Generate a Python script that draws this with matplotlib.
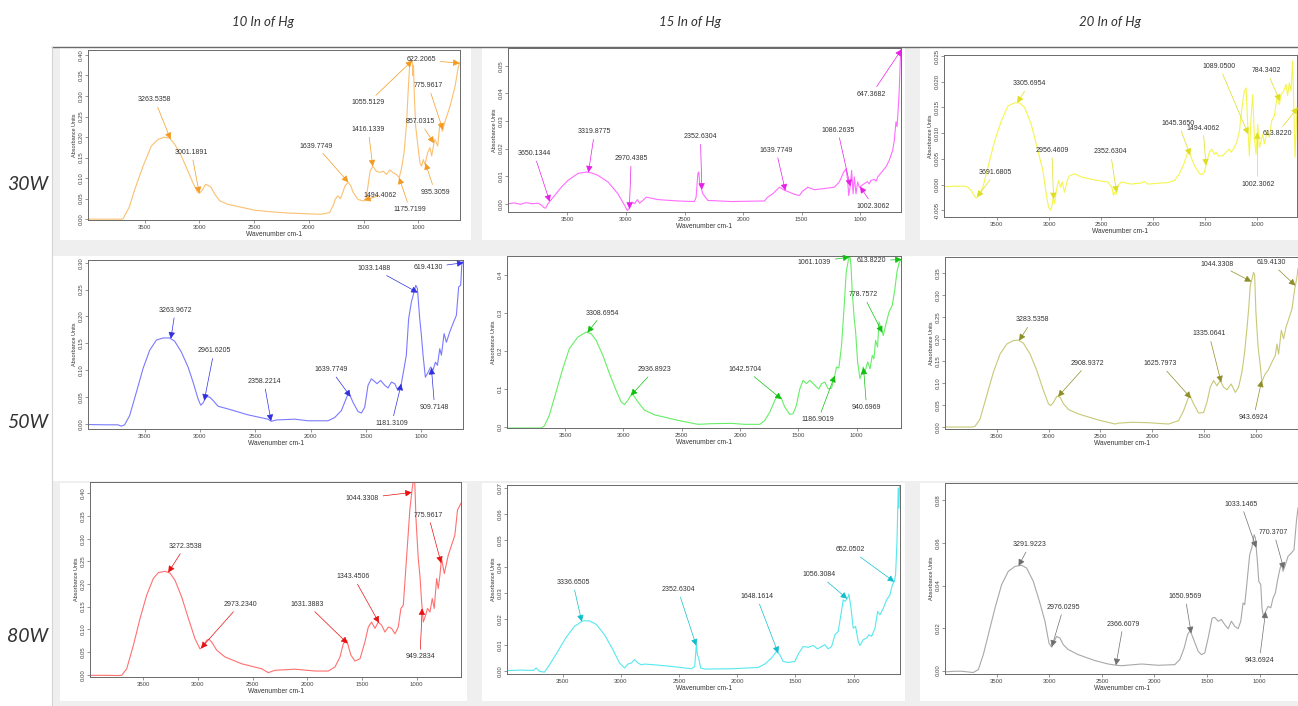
import numpy as np
import matplotlib
matplotlib.use("Agg")
import matplotlib.pyplot as plt
from matplotlib.patches import Rectangle
from matplotlib.lines import Line2D
from matplotlib.ticker import FormatStrFormatter

plt.rcParams['font.family'] = ['Liberation Sans', 'DejaVu Sans']

COLUMN_TITLES = ["10 In of Hg", "15 In of Hg", "20 In of Hg"]
ROW_TITLES = ["30W", "50W", "80W"]
X_TICKS = [3500, 3000, 2500, 2000, 1500, 1000]

# ---- FTIR spectra: (wavenumber cm-1, absorbance) ----
SPEC_30W_10HG = [(4018,0.000),(3900,0.000),(3800,0.000),(3700,0.000),(3640,0.030),(3590,0.073),(3515,0.129),
    (3440,0.178),(3380,0.194),(3320,0.200),(3270,0.197),(3225,0.182),(3165,0.154),(3105,0.117),(3060,0.089),
    (3020,0.067),(3000,0.063),(2970,0.072),(2945,0.085),(2920,0.082),(2895,0.078),(2860,0.061),(2815,0.045),
    (2740,0.036),(2600,0.028),(2495,0.022),(2350,0.018),(2190,0.015),(2000,0.013),(1885,0.012),(1810,0.016),
    (1775,0.035),(1760,0.048),(1735,0.057),(1712,0.050),(1690,0.065),(1670,0.081),(1640,0.090),(1615,0.080),
    (1595,0.065),(1550,0.048),(1500,0.044),(1475,0.053),(1455,0.090),(1440,0.117),(1415,0.129),(1385,0.117),
    (1350,0.114),(1320,0.117),(1290,0.109),(1260,0.120),(1230,0.113),(1200,0.109),(1175,0.101),(1155,0.121),
    (1130,0.162),(1107,0.234),(1092,0.315),(1080,0.370),(1064,0.388),(1055,0.386),(1050,0.350),(1044,0.375),
    (1036,0.300),(1024,0.226),(1000,0.170),(985,0.137),(970,0.129),(955,0.145),(938,0.133),(915,0.162),
    (893,0.174),(878,0.154),(857,0.185),(848,0.194),(823,0.178),(802,0.234),(780,0.214),(756,0.238),
    (710,0.275),(664,0.323),(634,0.372),(622,0.380),(619,0.382)]
PEAKS_30W_10HG = [3263.5358, 3001.1891, 1639.7749, 1416.1339, 1494.4062, 1175.7199, 1055.5129,
                  622.2065, 775.9617, 857.0315, 935.3059]

SPEC_30W_15HG = [(4006,0.0000),(3950,0.0003),(3900,-0.0002),(3850,0.0004),(3800,0.0000),(3750,0.0002),
    (3720,-0.0005),(3700,-0.0014),(3685,-0.0016),(3675,-0.0008),(3665,0.0000),(3608,0.0030),(3551,0.0060),
    (3494,0.0085),(3409,0.0110),(3338,0.0115),(3295,0.0112),(3239,0.0103),(3153,0.0079),(3068,0.0036),
    (3011,-0.0006),(2989,-0.0024),(2969,-0.0018),(2949,0.0006),(2926,0.0000),(2903,0.0015),(2883,0.0002),
    (2855,0.0012),(2827,0.0024),(2727,0.0015),(2557,0.0010),(2415,0.0008),(2401,0.0024),(2386,0.0110),
    (2378,0.0115),(2369,0.0067),(2358,0.0060),(2344,0.0036),(2301,0.0012),(2102,0.0008),(1818,0.0010),
    (1790,0.0024),(1747,0.0036),(1690,0.0060),(1648,0.0049),(1605,0.0042),(1562,0.0034),(1520,0.0030),
    (1491,0.0046),(1449,0.0060),(1392,0.0051),(1307,0.0055),(1222,0.0060),(1179,0.0079),(1142,0.0115),
    (1122,0.0127),(1108,0.0085),(1099,0.0030),(1085,0.0067),(1074,0.0121),(1062,0.0036),(1051,0.0097),
    (1037,0.0036),(1023,0.0079),(1009,0.0060),(966,0.0073),(940,0.0080),(925,0.0072),(909,0.0085),
    (880,0.0088),(865,0.0082),(852,0.0097),(810,0.0119),(781,0.0134),(753,0.0158),(724,0.0194),
    (710,0.0230),(696,0.0297),(687,0.0280),(676,0.0350),(668,0.0410),(659,0.0520),(653,0.0560)]
PEAKS_30W_15HG = [3650.1344, 3319.8775, 2970.4385, 2352.6304, 1639.7749, 1086.2635, 1002.3062, 647.3682]

SPEC_30W_20HG = [(4008,-0.0004),(3900,-0.0003),(3810,-0.0003),(3778,-0.0005),(3746,-0.0012),(3714,-0.0023),
    (3698,-0.0026),(3676,-0.0021),(3635,-0.0005),(3586,0.0034),(3522,0.0085),(3458,0.0124),(3394,0.0153),
    (3331,0.0159),(3283,0.0159),(3235,0.0150),(3171,0.0117),(3107,0.0066),(3059,0.0027),(3027,-0.0018),
    (3005,-0.0044),(2986,-0.0050),(2973,-0.0041),(2960,-0.0025),(2947,-0.0037),(2931,-0.0012),(2909,0.0008),
    (2890,-0.0005),(2874,0.0005),(2851,-0.0015),(2826,0.0008),(2803,0.0017),(2755,0.0021),(2692,0.0015),
    (2564,0.0009),(2436,0.0005),(2398,-0.0005),(2382,-0.0021),(2372,-0.0015),(2356,-0.0019),(2340,-0.0002),
    (2308,0.0005),(2212,0.0001),(2117,0.0003),(2085,0.0006),(2053,0.0001),(1861,0.0004),(1797,0.0008),
    (1749,0.0021),(1707,0.0040),(1669,0.0063),(1644,0.0057),(1606,0.0037),(1558,0.0022),(1535,0.0019),
    (1510,0.0024),(1484,0.0046),(1462,0.0063),(1439,0.0069),(1414,0.0059),(1398,0.0063),(1375,0.0056),
    (1334,0.0056),(1302,0.0063),(1270,0.0069),(1254,0.0063),(1222,0.0072),(1196,0.0085),(1174,0.0104),
    (1149,0.0150),(1126,0.0182),(1110,0.0188),(1094,0.0117),(1078,0.0056),(1062,0.0130),(1046,0.0175),
    (1030,0.0092),(1014,0.0059),(998,0.0117),(982,0.0072),(966,0.0085),(950,0.0098),(934,0.0079),
    (909,0.0104),(887,0.0092),(864,0.0124),(838,0.0134),(813,0.0169),(790,0.0156),(774,0.0175),
    (749,0.0182),(727,0.0195),(711,0.0173),(695,0.0198),(679,0.0182),(663,0.0240),(653,0.0163),
    (640,0.0053),(627,0.0120),(621,0.0150)]
PEAKS_30W_20HG = [3691.6805, 3305.6954, 2956.4609, 2352.6304, 1645.3650, 1494.4062, 1089.0500,
                  784.3402, 613.8220, 1002.3062]

SPEC_50W_10HG = [(4012,-0.0010),(3861,-0.0015),(3741,-0.0015),(3711,-0.0040),(3681,-0.0015),(3636,0.0156),
    (3575,0.059),(3515,0.103),(3455,0.137),(3395,0.156),(3334,0.160),(3274,0.160),(3229,0.154),(3169,0.134),
    (3108,0.106),(3063,0.078),(3018,0.047),(2994,0.035),(2973,0.039),(2943,0.051),(2913,0.050),(2883,0.044),
    (2837,0.033),(2747,0.028),(2566,0.017),(2386,0.009),(2355,0.005),(2310,0.0075),(2145,0.009),(2024,0.006),
    (1843,0.006),(1783,0.012),(1723,0.025),(1678,0.048),(1657,0.059),(1617,0.040),(1572,0.023),(1542,0.0205),
    (1512,0.031),(1482,0.072),(1452,0.084),(1422,0.079),(1401,0.075),(1368,0.081),(1331,0.072),(1301,0.067),
    (1271,0.078),(1241,0.075),(1211,0.062),(1181,0.075),(1157,0.103),(1136,0.128),(1115,0.196),(1090,0.227),
    (1066,0.246),(1051,0.258),(1036,0.252),(1015,0.196),(1000,0.165),(985,0.128),(964,0.087),(940,0.096),
    (916,0.106),(895,0.100),(873,0.115),(855,0.109),(834,0.140),(819,0.128),(795,0.168),(774,0.152),
    (744,0.171),(714,0.187),(684,0.202),(663,0.255),(645,0.258),(633,0.302),(624,0.300)]
PEAKS_50W_10HG = [3263.9672, 2961.6205, 2358.2214, 1639.7749, 1181.3109, 1033.1488, 619.4130, 909.7148]

SPEC_50W_15HG = [(3998,-0.0026),(3850,-0.0026),(3706,-0.0026),(3678,0.0026),(3635,0.031),(3577,0.092),
    (3520,0.153),(3463,0.206),(3391,0.236),(3320,0.249),(3277,0.245),(3234,0.228),(3176,0.188),(3119,0.140),
    (3062,0.096),(3019,0.066),(2990,0.059),(2962,0.070),(2927,0.0875),(2904,0.079),(2876,0.066),(2818,0.044),
    (2732,0.032),(2532,0.0175),(2360,0.007),(2246,0.0087),(2074,0.0096),(1959,0.007),(1830,0.007),
    (1787,0.0175),(1744,0.039),(1701,0.070),(1673,0.083),(1644,0.074),(1616,0.0525),(1573,0.033),
    (1544,0.035),(1516,0.057),(1487,0.100),(1459,0.1225),(1430,0.114),(1401,0.1225),(1372,0.114),
    (1344,0.105),(1324,0.100),(1300,0.114),(1272,0.118),(1243,0.100),(1215,0.102),(1192,0.127),
    (1172,0.1575),(1152,0.155),(1129,0.214),(1106,0.319),(1089,0.407),(1071,0.4375),(1057,0.450),
    (1048,0.424),(1037,0.354),(1020,0.284),(1008,0.249),(991,0.171),(971,0.127),(957,0.140),(943,0.1575),
    (928,0.144),(905,0.171),(885,0.153),(865,0.188),(851,0.179),(837,0.2275),(820,0.210),(808,0.276),
    (785,0.254),(771,0.240),(751,0.267),(722,0.302),(694,0.319),(671,0.363),(654,0.407),(637,0.429),
    (619,0.440)]
PEAKS_50W_15HG = [3308.6954, 2936.8923, 1642.5704, 1186.9019, 1061.1039, 613.8220, 778.7572, 940.6969]

SPEC_50W_20HG = [(3999,-0.0008),(3741,-0.0008),(3709,0.0008),(3661,0.0175),(3597,0.0706),(3532,0.124),
    (3468,0.165),(3403,0.188),(3339,0.196),(3291,0.197),(3243,0.190),(3178,0.165),(3114,0.128),(3049,0.082),
    (3001,0.052),(2979,0.048),(2953,0.055),(2921,0.069),(2889,0.067),(2856,0.052),(2808,0.039),(2712,0.029),
    (2518,0.015),(2358,0.006),(2325,0.008),(2197,0.010),(2036,0.009),(1843,0.006),(1746,0.0137),(1698,0.036),
    (1650,0.067),(1634,0.069),(1601,0.052),(1553,0.031),(1505,0.032),(1473,0.055),(1440,0.090),(1408,0.105),
    (1376,0.093),(1344,0.105),(1312,0.090),(1280,0.084),(1238,0.097),(1199,0.078),(1167,0.090),(1135,0.124),
    (1109,0.169),(1087,0.222),(1070,0.268),(1054,0.321),(1038,0.336),(1022,0.351),(1012,0.344),(1000,0.260),
    (980,0.184),(958,0.139),(942,0.101),(926,0.112),(910,0.120),(884,0.128),(861,0.139),(839,0.150),
    (813,0.162),(797,0.188),(781,0.165),(755,0.219),(733,0.200),(710,0.226),(678,0.249),(652,0.268),
    (626,0.313),(604,0.340),(594,0.360)]
PEAKS_50W_20HG = [3283.5358, 2908.9372, 1625.7973, 1335.0641, 1044.3308, 619.4130, 943.6924]

SPEC_80W_10HG = [(3988,-0.0015),(3850,-0.0015),(3729,-0.0020),(3698,-0.0015),(3652,0.013),(3591,0.065),
    (3530,0.124),(3470,0.175),(3409,0.212),(3363,0.225),(3302,0.228),(3256,0.224),(3210,0.208),(3149,0.171),
    (3088,0.124),(3027,0.079),(2982,0.057),(2951,0.061),(2921,0.076),(2899,0.078),(2875,0.072),(2829,0.054),
    (2753,0.039),(2601,0.024),(2418,0.013),(2357,0.0044),(2296,0.0096),(2113,0.012),(1930,0.008),(1808,0.008),
    (1747,0.017),(1701,0.039),(1671,0.068),(1640,0.076),(1601,0.043),(1564,0.030),(1518,0.035),(1473,0.072),
    (1442,0.105),(1412,0.116),(1381,0.102),(1351,0.116),(1320,0.109),(1290,0.094),(1259,0.105),(1229,0.102),
    (1198,0.090),(1168,0.105),(1144,0.146),(1122,0.153),(1107,0.205),(1082,0.293),(1061,0.367),(1040,0.411),
    (1028,0.432),(1016,0.420),(1006,0.344),(985,0.256),(970,0.219),(954,0.160),(939,0.116),(918,0.131),
    (900,0.146),(878,0.138),(857,0.168),(839,0.146),(817,0.212),(802,0.190),(787,0.219),(772,0.256),
    (747,0.223),(711,0.263),(680,0.286),(650,0.308),(626,0.363),(594,0.378)]
PEAKS_80W_10HG = [3272.3538, 2973.2340, 1631.3883, 1343.4506, 1044.3308, 775.9617, 949.2834]

SPEC_80W_15HG = [(3979,0.0003),(3858,0.0005),(3801,0.0004),(3750,0.0004),(3729,0.0013),(3700,0.0000),
    (3657,-0.0003),(3614,0.0025),(3543,0.0076),(3471,0.0130),(3399,0.0172),(3327,0.0193),(3270,0.0193),
    (3213,0.0180),(3141,0.0140),(3069,0.0083),(3012,0.0032),(2969,0.0013),(2940,0.0028),(2911,0.0032),
    (2883,0.0045),(2854,0.0032),(2825,0.0025),(2797,0.0028),(2711,0.0025),(2567,0.0019),(2395,0.0010),
    (2366,0.0019),(2352,0.0102),(2343,0.0064),(2332,0.0051),(2315,0.0013),(2280,0.0009),(2051,0.0010),
    (1821,0.0015),(1764,0.0028),(1706,0.0051),(1663,0.0076),(1635,0.0064),(1606,0.0038),(1563,0.0034),
    (1506,0.0038),(1471,0.0070),(1434,0.0095),(1391,0.0092),(1348,0.0099),(1311,0.0086),(1276,0.0095),
    (1247,0.0102),(1219,0.0086),(1190,0.0095),(1161,0.0140),(1133,0.0153),(1110,0.0216),(1090,0.0273),
    (1075,0.0267),(1052,0.0280),(1041,0.0295),(1023,0.0242),(1004,0.0165),(984,0.0172),(961,0.0114),
    (946,0.0099),(918,0.0121),(889,0.0127),(869,0.0140),(846,0.0134),(817,0.0165),(794,0.0229),
    (774,0.0216),(745,0.0242),(717,0.0273),(688,0.0293),(668,0.0331),(651,0.0343),(640,0.0369),
    (628,0.0496),(617,0.0700),(611,0.0623),(606,0.0715)]
PEAKS_80W_15HG = [3336.6505, 2352.6304, 1648.1614, 1056.3084, 652.0502]

SPEC_80W_20HG = [(3991,-0.0006),(3896,-0.0003),(3832,-0.0003),(3722,-0.0009),(3674,0.0005),(3627,0.0075),
    (3579,0.0169),(3516,0.0294),(3453,0.0404),(3389,0.0467),(3326,0.0490),(3262,0.0495),(3215,0.0482),
    (3152,0.0420),(3089,0.0318),(3041,0.0232),(3003,0.0130),(2978,0.0110),(2952,0.0138),(2930,0.0161),
    (2899,0.0153),(2867,0.0122),(2820,0.0099),(2725,0.0075),(2566,0.0047),(2440,0.0031),(2361,0.0025),
    (2313,0.0023),(2123,0.0031),(1965,0.0025),(1807,0.0028),(1759,0.0052),(1718,0.0106),(1686,0.0169),
    (1661,0.0188),(1633,0.0153),(1585,0.0091),(1554,0.0075),(1522,0.0083),(1490,0.0153),(1452,0.0247),
    (1427,0.0250),(1395,0.0232),(1364,0.0240),(1332,0.0216),(1300,0.0197),(1269,0.0232),(1237,0.0208),
    (1205,0.0197),(1180,0.0232),(1158,0.0318),(1142,0.0310),(1117,0.0435),(1095,0.0545),(1072,0.0584),
    (1053,0.0639),(1041,0.0623),(1022,0.0514),(1009,0.0420),(990,0.0404),(978,0.0294),(962,0.0247),
    (943,0.0279),(920,0.0302),(895,0.0295),(873,0.0341),(851,0.0365),(832,0.0420),(816,0.0459),
    (794,0.0506),(778,0.0467),(756,0.0498),(731,0.0537),(699,0.0553),(674,0.0568),(651,0.0702),(636,0.0764)]
PEAKS_80W_20HG = [3291.9223, 2976.0295, 2366.6079, 1650.9569, 1033.1465, 770.3707, 943.6924]

# ---- layout: label anchor positions (data coords), axes boxes in pixels ----
W, H = 1298, 706

PANELS = [
    dict(row=0, col=0, spec=SPEC_30W_10HG, peaks=PEAKS_30W_10HG,
         text_xy=[(3409,0.291),(3073,0.163),(1930,0.178),(1457,0.218),(1350,0.058),(1076,0.023),
                  (1457,0.284),(969,0.388),(908,0.325),(985,0.238),(847,0.066)],
         box=(88, 50, 460, 220), xlim=(4018, 619), ylim=(-0.002, 0.412),
         yticks=np.arange(0, 0.401, 0.05), yfmt='%.2f', line='#fbc070', accent='#f39a20'),
    dict(row=0, col=1, spec=SPEC_30W_15HG, peaks=PEAKS_30W_15HG,
         text_xy=[(3784,0.0182),(3267,0.0261),(2955,0.0164),(2364,0.0243),(1719,0.0194),(1193,0.0267),
                  (889,-0.0009),(903,0.0398)],
         box=(508, 48, 901, 212), xlim=(4006, 653), ylim=(-0.003, 0.0565),
         yticks=np.arange(0, 0.0501, 0.01), yfmt='%.2f', line='#ff6cff', accent='#e81ee8'),
    dict(row=0, col=2, spec=SPEC_30W_20HG, peaks=PEAKS_30W_20HG,
         text_xy=[(3513,0.0024),(3190,0.0196),(2973,0.0067),(2411,0.0064),(1759,0.0119),(1522,0.0110),
                  (1366,0.0230),(912,0.0221),(813,0.0099),(998,0.0001)],
         box=(944, 55, 1297, 217), xlim=(4008, 621), ylim=(-0.0063, 0.0252),
         yticks=np.arange(-0.005, 0.02501, 0.005), yfmt='%.3f', line='#f5f550', accent='#dede20'),
    dict(row=1, col=0, spec=SPEC_50W_10HG, peaks=PEAKS_50W_10HG,
         text_xy=[(3223,0.2115),(2873,0.136),(2422,0.079),(1819,0.101),(1268,0.0012),(1428,0.289),
                  (940,0.291),(880,0.031)],
         box=(88, 260, 463, 429), xlim=(4012, 624), ylim=(-0.0093, 0.305),
         yticks=np.arange(0, 0.301, 0.05), yfmt='%.2f', line='#7a7aff', accent='#3030e0'),
    dict(row=1, col=1, spec=SPEC_50W_15HG, peaks=PEAKS_50W_15HG,
         text_xy=[(3176,0.299),(2732,0.1505),(1953,0.151),(1329,0.019),(1361,0.433),(871,0.436),
                  (943,0.347),(914,0.051)],
         box=(507, 256, 901, 428), xlim=(3998, 619), ylim=(-0.0026, 0.449),
         yticks=np.arange(0, 0.401, 0.1), yfmt='%.1f', line='#66ee66', accent='#10c010'),
    dict(row=1, col=2, spec=SPEC_50W_20HG, peaks=PEAKS_50W_20HG,
         text_xy=[(3156,0.243),(2621,0.144),(1923,0.143),(1453,0.211),(1370,0.370),(855,0.373),(1022,0.021)],
         box=(945, 257, 1298, 429), xlim=(3999, 594), ylim=(-0.0053, 0.386),
         yticks=np.arange(0, 0.351, 0.05), yfmt='%.2f', line='#c8c878', accent='#8e8e28'),
    dict(row=2, col=0, spec=SPEC_80W_10HG, peaks=PEAKS_80W_10HG,
         text_xy=[(3119,0.283),(2616,0.155),(2000,0.155),(1579,0.216),(1497,0.389),(893,0.352),(969,0.039)],
         box=(90, 482, 461, 677), xlim=(3988, 594), ylim=(-0.0052, 0.425),
         yticks=np.arange(0, 0.401, 0.05), yfmt='%.2f', line='#ff7070', accent='#e81010'),
    dict(row=2, col=1, spec=SPEC_80W_15HG, peaks=PEAKS_80W_15HG,
         text_xy=[(3413,0.034),(2510,0.0312),(1835,0.0286),(1296,0.0369),(1026,0.0464)],
         box=(507, 485, 900, 674), xlim=(3979, 602), ylim=(-0.001, 0.0712),
         yticks=np.arange(0, 0.0701, 0.01), yfmt='%.2f', line='#55e8ee', accent='#10bfcc'),
    dict(row=2, col=2, spec=SPEC_80W_20HG, peaks=PEAKS_80W_20HG,
         text_xy=[(3184,0.0592),(2864,0.0298),(2297,0.0219),(1709,0.0349),(1177,0.0783),(867,0.065),
                  (1003,0.0047)],
         box=(945, 483, 1298, 674), xlim=(3991, 636), ylim=(-0.0016, 0.0882),
         yticks=np.arange(0, 0.0801, 0.02), yfmt='%.2f', line='#a8a8a8', accent='#6e6e6e'),
]

TITLE_X = [263, 690, 1110]
ROW_Y = [185, 423, 637]

fig = plt.figure(figsize=(W / 100, H / 100), dpi=100)
fig.patch.set_facecolor('white')


def to_fig(x0, y0, x1, y1):
    return (x0 / W, 1 - y1 / H, (x1 - x0) / W, (y1 - y0) / H)


def backdrop(x0, y0, x1, y1, color):
    l, b, w, h = to_fig(x0, y0, x1, y1)
    fig.add_artist(Rectangle((l, b), w, h, transform=fig.transFigure,
                             facecolor=color, edgecolor='none', zorder=-10))


# grey sheet behind the panels, white cards for each plot
backdrop(52, 47, W, H, '#efefef')
backdrop(53, 256, W, 481, '#ffffff')
for x0, x1 in [(60, 471), (482, 905), (920, W)]:
    backdrop(x0, 48, x1, 240, '#ffffff')
for x0, x1 in [(60, 467), (482, 905), (920, W)]:
    backdrop(x0, 483, x1, 701, '#ffffff')
fig.add_artist(Line2D([52 / W, 1], [1 - 47 / H, 1 - 47 / H], transform=fig.transFigure,
                      color='#6a6a6a', lw=1.0, zorder=-5))
fig.add_artist(Line2D([52 / W, 52 / W], [0, 1 - 47 / H], transform=fig.transFigure,
                      color='#d4d4d4', lw=0.8, zorder=-5))

for title, x in zip(COLUMN_TITLES, TITLE_X):
    fig.text(x / W, 1 - 22 / H, title, ha='center', va='center', fontsize=9.5,
             family=['Lato', 'DejaVu Sans'], style='italic', color='#333333')
for title, y in zip(ROW_TITLES, ROW_Y):
    fig.text(28 / W, 1 - y / H, title, ha='center', va='center', fontsize=14,
             family=['Lato', 'DejaVu Sans'], style='italic', color='#333333')

for p in PANELS:
    ax = fig.add_axes(to_fig(*p['box']))
    wn = np.array([pt[0] for pt in p['spec']], dtype=float)
    ab = np.array([pt[1] for pt in p['spec']], dtype=float)
    ax.plot(wn, ab, color=p['line'], lw=0.8, solid_joinstyle='round')
    ax.set_xlim(*p['xlim'])
    ax.set_ylim(*p['ylim'])
    ax.set_xticks(X_TICKS)
    ax.set_xticklabels([str(t) for t in X_TICKS])
    ax.set_yticks(p['yticks'])
    ax.yaxis.set_major_formatter(FormatStrFormatter(p['yfmt']))
    for s in ax.spines.values():
        s.set_color('#6a6a6a')
        s.set_linewidth(0.7)
    ax.tick_params(axis='both', direction='out', length=2.2, width=0.5, color='#6a6a6a',
                   labelsize=4.3, labelcolor='#444444', pad=1.2)
    for lab in ax.get_yticklabels():
        lab.set_rotation(90)
        lab.set_va('center')
    ax.set_xlabel('Wavenumber cm-1', fontsize=4.8, color='#333333', labelpad=0.8)
    ax.set_ylabel('Absorbance Units', fontsize=4.0, color='#333333', labelpad=1.0)

    wn_inc, ab_inc = wn[::-1], ab[::-1]
    for peak, (tx, ty) in zip(p['peaks'], p['text_xy']):
        py = float(np.interp(peak, wn_inc, ab_inc))
        ax.annotate(f'{peak:.4f}', xy=(peak, py), xytext=(tx, ty),
                    ha='center', va='center', fontsize=5.0, color='#333333',
                    annotation_clip=False,
                    arrowprops=dict(arrowstyle='-|>,head_length=0.55,head_width=0.28',
                                    mutation_scale=7, color=p['accent'], lw=0.5,
                                    shrinkA=1, shrinkB=0))

fig.savefig('out.png', dpi=100, facecolor='white')
